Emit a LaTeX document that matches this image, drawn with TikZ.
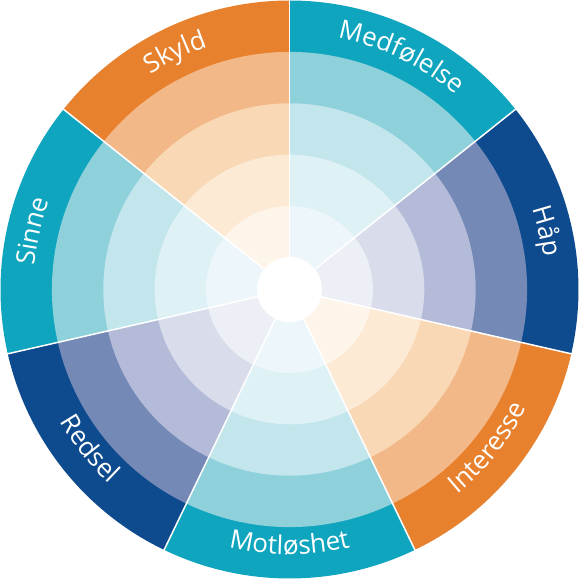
\documentclass[tikz,border=0pt]{standalone}
\usepackage{fontspec}
\usetikzlibrary{decorations.text}
\newfontfamily\wheelfont{Open Sans}
\newcommand\lblfont{\wheelfont\fontsize{26}{26}\selectfont}

\definecolor{tealA}{HTML}{0FA5BE}
\definecolor{tealB}{HTML}{8FD1DB}
\definecolor{tealC}{HTML}{C3E6EC}
\definecolor{tealD}{HTML}{DEF1F5}
\definecolor{tealE}{HTML}{EDF6FB}
\definecolor{navyA}{HTML}{0E4A8E}
\definecolor{navyB}{HTML}{7489B6}
\definecolor{navyC}{HTML}{B3BBD8}
\definecolor{navyD}{HTML}{D8DCEB}
\definecolor{navyE}{HTML}{EDEFF6}
\definecolor{orngA}{HTML}{E8812E}
\definecolor{orngB}{HTML}{F3B888}
\definecolor{orngC}{HTML}{F9D8B5}
\definecolor{orngD}{HTML}{FDEAD5}
\definecolor{orngE}{HTML}{FEF5EA}

\begin{document}
\begin{tikzpicture}[
  sep/.style={white, line width=1.5pt},
  labelarc/.style={decorate, decoration={text along path, text={|\lblfont|#1}, text align=center, text color=white}}]
\useasboundingbox (-289.5pt,-289.5pt) rectangle (289.5pt,289.5pt);

% Rings
\foreach \s/\hue in {0/teal,1/navy,2/orng,3/teal,4/navy,5/teal,6/orng}{
  \pgfmathsetmacro\a{90-\s*360/7}
  \foreach \r/\t in {289/A,237.6/B,186.2/C,134.8/D,83.4/E}
    \fill[\hue\t] (0,0) -- (\a:\r pt) arc[start angle=\a, end angle=\a-360/7, radius=\r pt] -- cycle;
}

% Separators
\foreach \s in {0,...,6}
  \draw[sep] (0,0) -- ({90-\s*360/7}:289.5pt);
\fill[white] (0,0) circle[radius=32.5pt];

% Labels
\path[labelarc=Medfølelse] (90:256pt) arc[start angle=90, end angle=38.571, radius=256pt];
\path[labelarc=Håp] (38.571:256pt) arc[start angle=38.571, end angle=-12.857, radius=256pt];
\path[labelarc=Interesse] (-64.286:265pt) arc[start angle=-64.286, end angle=-12.857, radius=265pt];
\path[labelarc=Motløshet] (244.286:265pt) arc[start angle=244.286, end angle=295.714, radius=265pt];
\path[labelarc=Redsel] (192.857:265pt) arc[start angle=192.857, end angle=244.286, radius=265pt];
\path[labelarc=Sinne] (192.857:256pt) arc[start angle=192.857, end angle=141.429, radius=256pt];
\path[labelarc=Skyld] (141.429:256pt) arc[start angle=141.429, end angle=90, radius=256pt];
\end{tikzpicture}
\end{document}
